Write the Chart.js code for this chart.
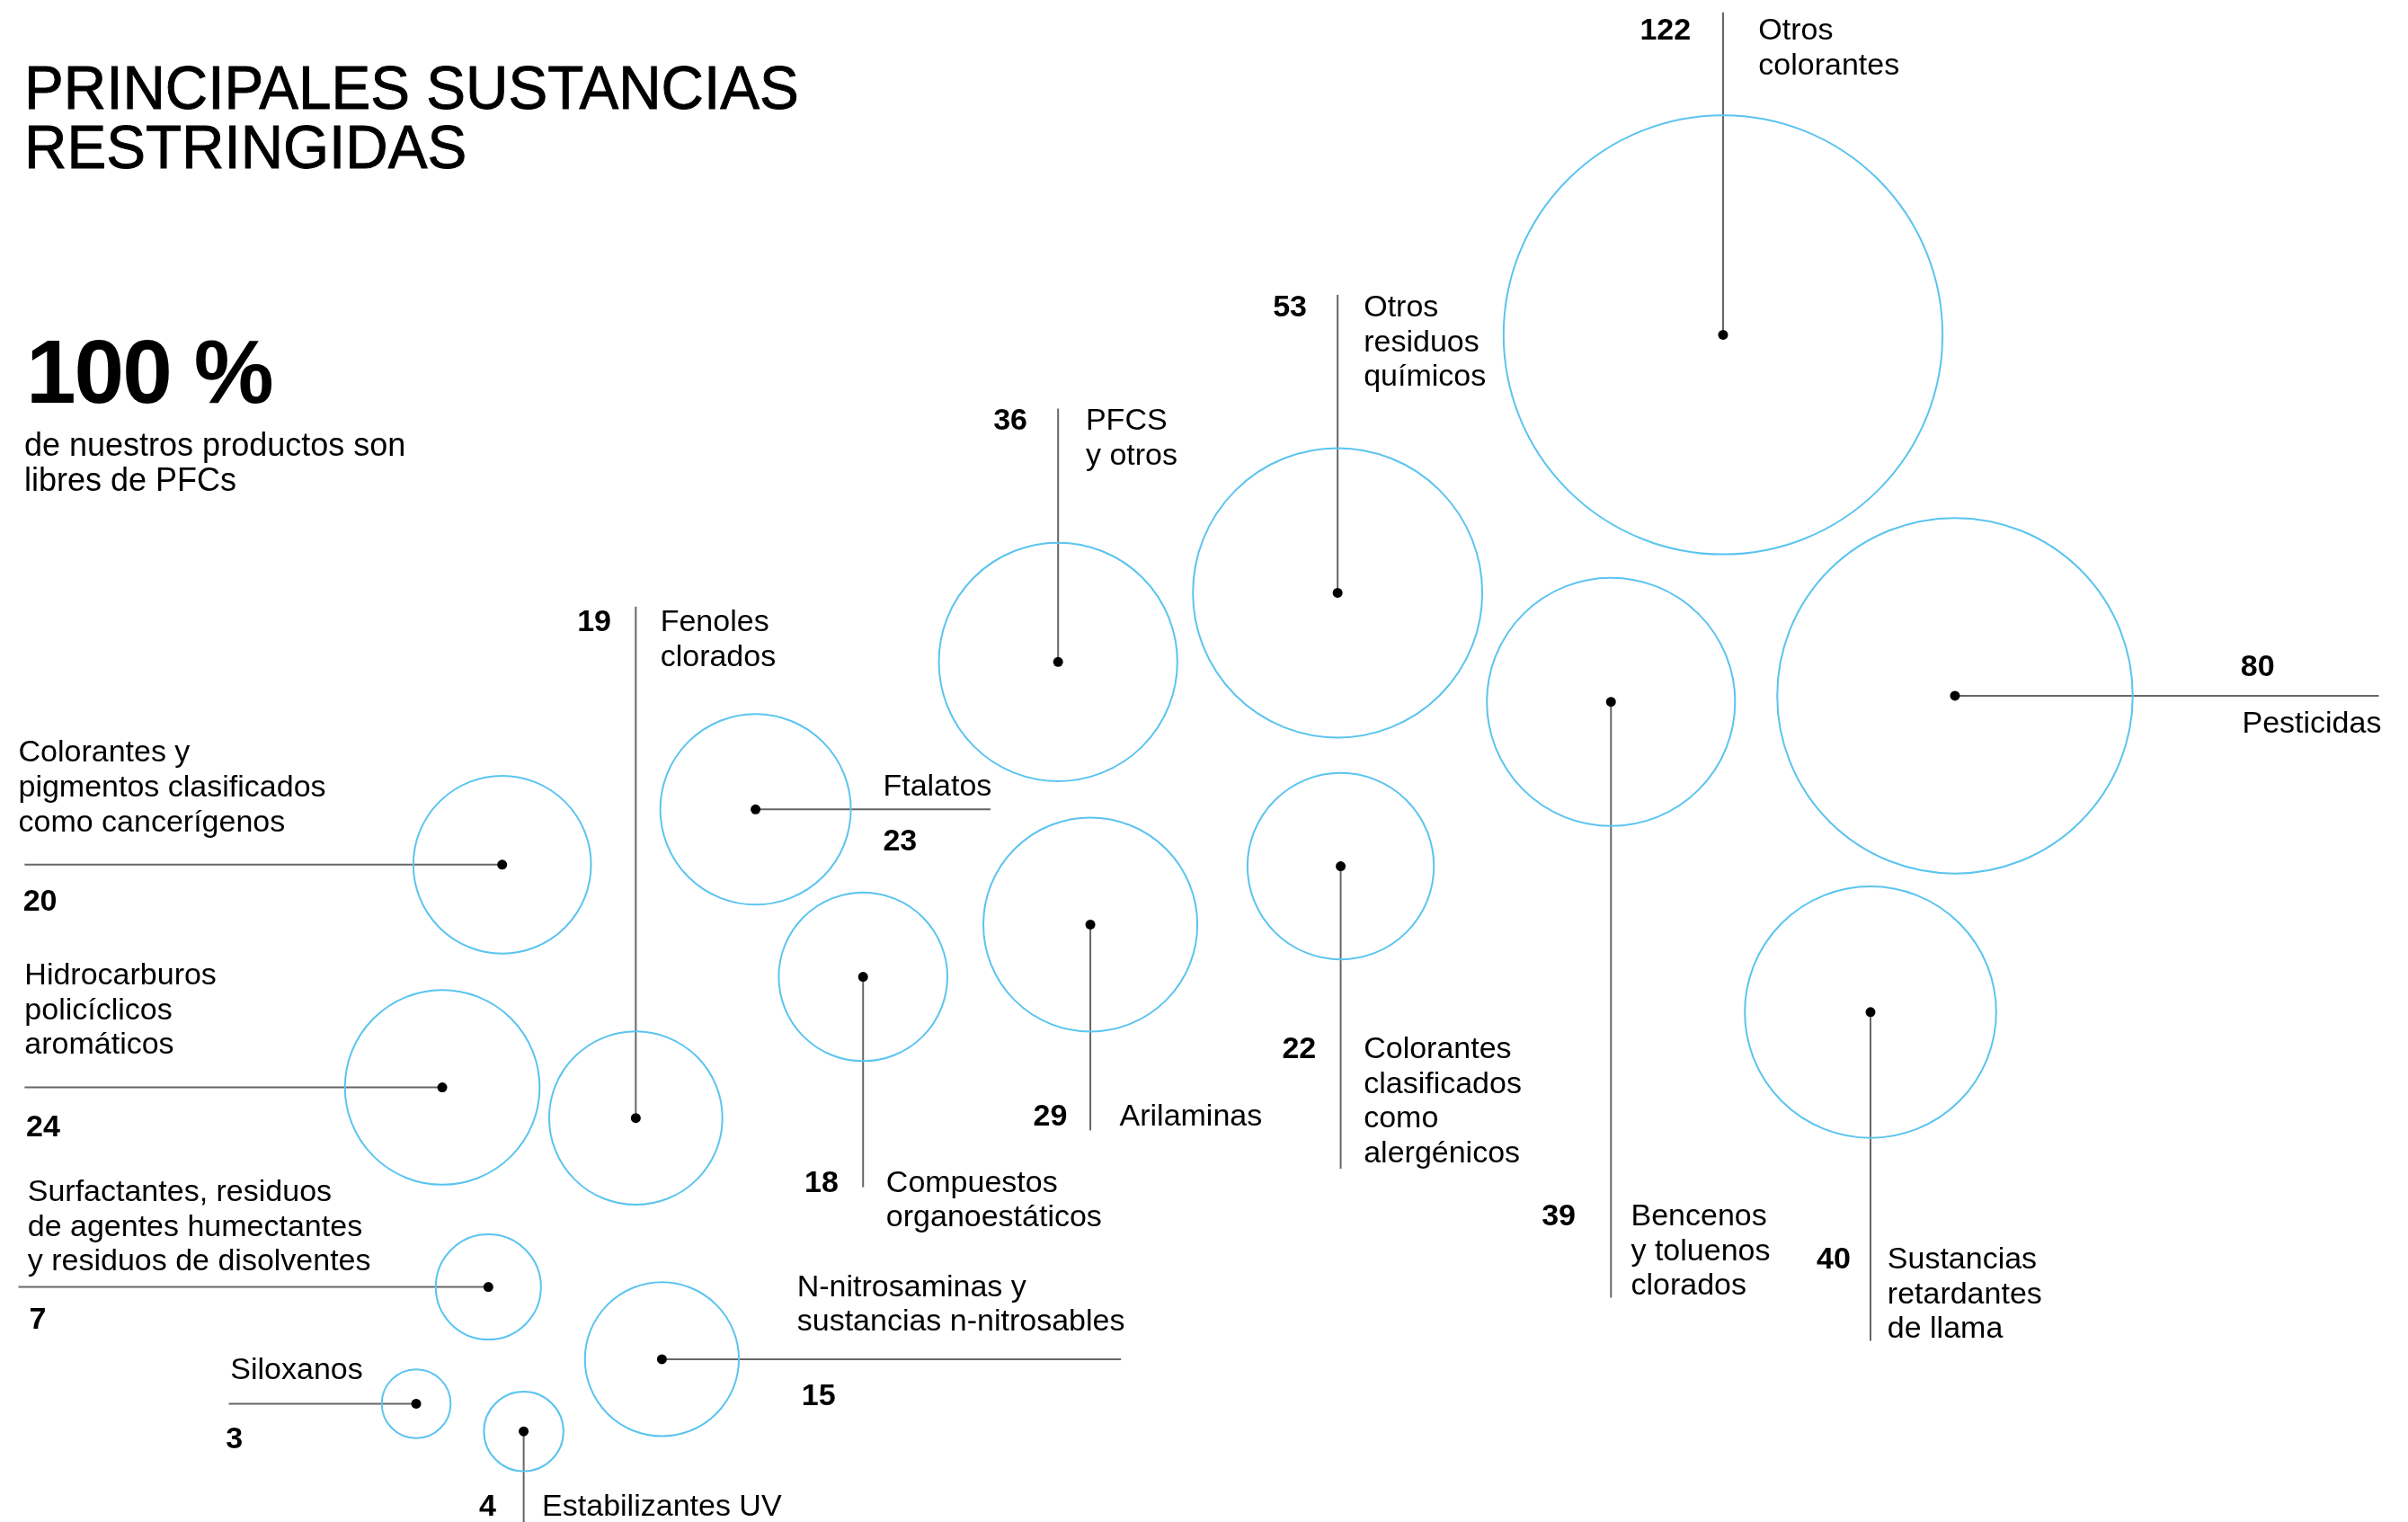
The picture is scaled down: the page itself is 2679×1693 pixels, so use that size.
<!DOCTYPE html>
<html lang="es">
<head>
<meta charset="utf-8">
<title>Principales sustancias restringidas</title>
<script src="https://cdn.jsdelivr.net/npm/chart.js@4.4.1/dist/chart.umd.min.js"></script>
<style>
    html, body { margin: 0; padding: 0; background: #fff; }
    #wrap { position: relative; width: 2679px; height: 1693px; overflow: hidden; }
    #chart { position: absolute; left: 0; top: 0; }
    .title {
        position: absolute; left: 27px; top: 64px; margin: 0;
        font: 400 68px/66px "Liberation Sans", Arial, sans-serif; color: #000;
        -webkit-text-stroke: 0.9px #000;
        transform: scaleX(0.965); transform-origin: left top; white-space: nowrap;
    }
    .big {
        position: absolute; left: 29px; top: 363px;
        font: 700 100px/100px "Liberation Sans", Arial, sans-serif; color: #000;
        letter-spacing: -2px; white-space: nowrap;
    }
    .sub {
        position: absolute; left: 27px; top: 475px;
        font: 400 36px/39px "Liberation Sans", Arial, sans-serif; color: #000;
    }
</style>
</head>
<body>
<div id="wrap">
    <canvas id="chart"></canvas>
    <h1 class="title">PRINCIPALES SUSTANCIAS<br>RESTRINGIDAS</h1>
    <div class="big">100 %</div>
    <div class="sub">de nuestros productos son<br>libres de PFCs</div>
</div>
<script>
// categories and values (number of restricted substances per group)
var categories = [
    'Otros\ncolorantes',
    'Otros\nresiduos\nquímicos',
    'PFCS\ny otros',
    'Pesticidas',
    'Bencenos\ny toluenos\nclorados',
    'Fenoles\nclorados',
    'Ftalatos',
    'Colorantes y\npigmentos clasificados\ncomo cancerígenos',
    'Compuestos\norganoestáticos',
    'Arilaminas',
    'Colorantes\nclasificados\ncomo\nalergénicos',
    'Sustancias\nretardantes\nde llama',
    'Hidrocarburos\npolicíclicos\naromáticos',
    'Surfactantes, residuos\nde agentes humectantes\ny residuos de disolventes',
    'Siloxanos',
    'Estabilizantes UV',
    'N-nitrosaminas y\nsustancias n-nitrosables'
];
var values = [122, 53, 36, 80, 39, 19, 23, 20, 18, 29, 22, 40, 24, 7, 3, 4, 15];

// packed layout of the bubbles (chart units, 0-1568 x 0-991)
var posX = [1122, 871, 689, 1273, 1049, 414, 492, 327, 562, 710, 873, 1218, 288, 318, 271, 341, 431];
var posY = [218, 386, 431, 453, 457, 728, 527, 563, 636, 602, 564, 659, 708, 838, 914, 932, 885];

// leader lines and label anchors (chart units)
var leaders = [
    {dir: 'v', end: 8,    num: [1101, 19, 'right'],  text: [1145, 19]},
    {dir: 'v', end: 192,  num: [851, 199, 'right'],  text: [888, 199]},
    {dir: 'v', end: 266,  num: [669, 273, 'right'],  text: [707, 273]},
    {dir: 'h', end: 1549, num: [1459, 433, 'left'],  text: [1460, 470]},
    {dir: 'v', end: 845,  num: [1026, 791, 'right'], text: [1062, 791]},
    {dir: 'v', end: 395,  num: [398, 404, 'right'],  text: [430, 404]},
    {dir: 'h', end: 645,  num: [575, 547, 'left'],   text: [575, 511]},
    {dir: 'h', end: 16,   num: [15, 586, 'left'],    text: [12, 489]},
    {dir: 'v', end: 773,  num: [546, 769, 'right'],  text: [577, 769]},
    {dir: 'v', end: 736,  num: [695, 726, 'right'],  text: [729, 726]},
    {dir: 'v', end: 761,  num: [857, 682, 'right'],  text: [888, 682]},
    {dir: 'v', end: 873,  num: [1205, 819, 'right'], text: [1229, 819]},
    {dir: 'h', end: 16,   num: [17, 733, 'left'],    text: [16, 634]},
    {dir: 'h', end: 12,   num: [19, 858, 'left'],    text: [18, 775]},
    {dir: 'h', end: 149,  num: [147, 936, 'left'],   text: [150, 891]},
    {dir: 'v', end: 991,  num: [323, 980, 'right'],  text: [353, 980]},
    {dir: 'h', end: 730,  num: [522, 908, 'left'],   text: [519, 837]}
];

var W = 2679, H = 1693;
var UNITS_W = 1568, UNITS_H = 991;
var RADIUS_PER_SQRT = 12.94; // chart units per sqrt(value), bubble area ~ value
var TEXT_SHIFT = 1.5;        // nudge labels down a bit
var FONT = '"Liberation Sans", Arial, sans-serif';

var canvas = document.getElementById('chart');
canvas.width = W;
canvas.height = H;

var points = values.map(function (v, i) {
    return {x: posX[i], y: posY[i], v: v};
});

function unit(chart) {
    return chart.width / UNITS_W;
}

var leaderPlugin = {
    id: 'leaders',
    beforeDatasetsDraw: function (chart) {
        var ctx = chart.ctx, xs = chart.scales.x, ys = chart.scales.y;
        ctx.save();
        ctx.strokeStyle = '#666';
        ctx.lineWidth = 2;
        leaders.forEach(function (l, i) {
            var px = xs.getPixelForValue(posX[i]);
            var py = ys.getPixelForValue(posY[i]);
            ctx.beginPath();
            ctx.moveTo(px, py);
            if (l.dir === 'v') ctx.lineTo(px, ys.getPixelForValue(l.end));
            else ctx.lineTo(xs.getPixelForValue(l.end), py);
            ctx.stroke();
        });
        ctx.restore();
    },
    afterDatasetsDraw: function (chart) {
        var ctx = chart.ctx, xs = chart.scales.x, ys = chart.scales.y;
        var s = unit(chart);
        var lineH = 22.6 * s;
        ctx.save();
        ctx.fillStyle = '#000';
        ctx.textBaseline = 'middle';
        leaders.forEach(function (l, i) {
            // number
            ctx.font = '700 34px ' + FONT;
            ctx.textAlign = l.num[2];
            ctx.fillText(String(values[i]), xs.getPixelForValue(l.num[0]), ys.getPixelForValue(l.num[1] + TEXT_SHIFT));
            // name
            ctx.font = '400 34px ' + FONT;
            ctx.textAlign = 'left';
            var tx = xs.getPixelForValue(l.text[0]);
            var ty = ys.getPixelForValue(l.text[1] + TEXT_SHIFT);
            categories[i].split('\n').forEach(function (line, j) {
                ctx.fillText(line, tx, ty + j * lineH);
            });
        });
        ctx.restore();
    }
};

new Chart(canvas, {
    type: 'bubble',
    data: {
        datasets: [{
            label: 'Sustancias',
            data: points,
            order: 2,
            backgroundColor: 'rgba(0,0,0,0)',
            borderColor: '#5bc4ef',
            borderWidth: 2,
            clip: false,
            radius: function (c) {
                return RADIUS_PER_SQRT * unit(c.chart) * Math.sqrt(c.raw.v);
            }
        }, {
            label: 'Centro',
            data: points,
            order: 1,
            backgroundColor: '#000',
            borderWidth: 0,
            clip: false,
            radius: 5.5
        }]
    },
    options: {
        responsive: false,
        animation: false,
        events: [],
        layout: {padding: 0, autoPadding: false},
        plugins: {
            legend: {display: false},
            tooltip: {enabled: false}
        },
        scales: {
            x: {type: 'linear', min: 0, max: UNITS_W, display: false},
            y: {type: 'linear', min: 0, max: UNITS_H, reverse: true, display: false}
        }
    },
    plugins: [leaderPlugin]
});
</script>
</body>
</html>
